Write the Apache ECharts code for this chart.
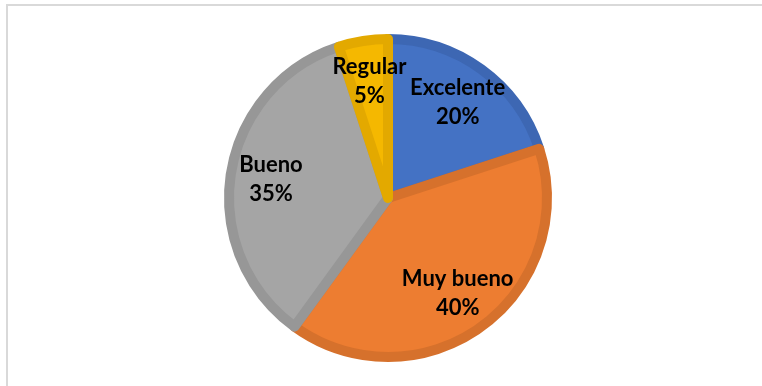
<!DOCTYPE html>
<html>
<head>
<meta charset="utf-8">
<style>
  html, body { margin: 0; padding: 0; background: #ffffff; }
  #chart { width: 762px; height: 386px; }
</style>
<script src="https://cdn.jsdelivr.net/npm/echarts@6/dist/echarts.min.js"></script>
</head>
<body>
<div id="chart"></div>
<script>
// Rating categories and their shares (percent)
const categories = ['Excelente', 'Muy bueno', 'Bueno', 'Regular'];
const shares = [20, 40, 35, 5];
const fillColors = ['#4472C4', '#ED7D31', '#A5A5A5', '#F5B800'];
const edgeColors = ['#3D67B3', '#D6712C', '#979797', '#E3A900'];

const chart = echarts.init(document.getElementById('chart'), null, { renderer: 'canvas' });

const center = [388, 198];
const outerRadius = 159;

const sliceData = categories.map((name, i) => ({
  name: name,
  value: shares[i],
  itemStyle: { color: fillColors[i], borderColor: edgeColors[i] }
}));

const labelData = categories.map((name, i) => ({ name: name, value: shares[i] }));

chart.setOption({
  animation: false,
  backgroundColor: '#ffffff',
  graphic: [{
    type: 'rect',
    shape: { x: 7, y: 5, width: 820, height: 420 },
    style: { fill: 'none', stroke: '#D9D9D9', lineWidth: 2 },
    silent: true,
    z: 0
  }],
  series: [
    {
      type: 'pie',
      center: center,
      radius: [0, outerRadius],
      startAngle: 90,
      clockwise: true,
      silent: true,
      label: { show: false },
      labelLine: { show: false },
      itemStyle: { borderWidth: 10, borderJoin: 'round' },
      emphasis: { disabled: true },
      data: sliceData
    },
    {
      // transparent ring used only to place the category labels
      type: 'pie',
      center: center,
      radius: [72, outerRadius],
      startAngle: 90,
      clockwise: true,
      silent: true,
      itemStyle: { color: 'rgba(0,0,0,0)', borderWidth: 0 },
      emphasis: { disabled: true },
      labelLine: { show: false },
      label: {
        show: true,
        position: 'inside',
        formatter: '{b}\n{c}%',
        color: '#000000',
        fontFamily: 'Lato',
        fontWeight: 'bold',
        fontSize: 22,
        lineHeight: 29
      },
      data: labelData
    }
  ]
});
</script>
</body>
</html>
